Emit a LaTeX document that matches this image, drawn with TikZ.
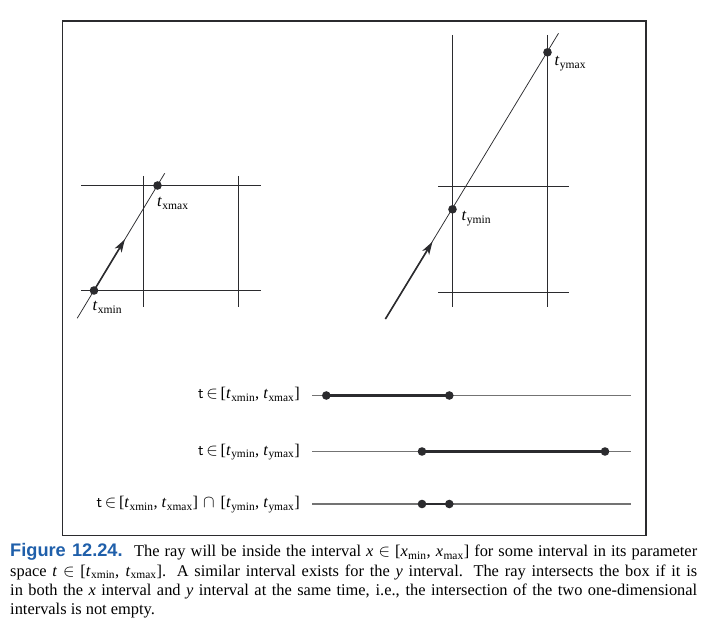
\documentclass[tikz,border=0pt]{standalone}
\usepackage{fontspec}
\setmainfont{Liberation Serif}
\newfontfamily\capsans{Liberation Sans}
\usetikzlibrary{arrows.meta}
\definecolor{ink}{HTML}{2B2B2E}
\definecolor{axisgray}{HTML}{737373}
\definecolor{capblue}{HTML}{1F5FAA}
\newcommand\tsb[1]{\textit{t}\kern0.3pt\textsubscript{#1}}
\newcommand\vsb[2]{\textit{#1}\kern0.3pt\textsubscript{#2}}
\begin{document}
\begin{tikzpicture}[x=1pt,y=-1pt,
  frame/.style={draw=ink,line width=1.3pt},
  gridline/.style={draw=ink,line width=1.15pt},
  ray/.style={draw=ink,line width=0.75pt},
  raythick/.style={draw=ink,line width=1.6pt,-{Stealth[length=13pt,width=8pt,inset=3.5pt]}},
  dot/.style={circle,fill=ink,inner sep=0pt,minimum size=8.6pt},
  lbl/.style={inner sep=0pt,anchor=base west,font=\fontsize{16.5}{18}\selectfont},
  axis/.style={draw=axisgray,line width=1.2pt},
  seg/.style={draw=ink,line width=2.6pt},
  ilbl/.style={inner sep=0pt,anchor=base east,font=\fontsize{16.3}{18}\selectfont},
  caption/.style={inner sep=0pt,anchor=north west,text width=687pt,align=justify,font=\fontsize{16.4}{19.2}\selectfont},
]
\useasboundingbox (0,0) rectangle (707,628);
\draw[frame] (62.5,21) rectangle (646,535.5);

% ---------- left diagram ----------
\coordinate (LH1a) at (81,185.5);   \coordinate (LH1b) at (261,185.5);
\coordinate (LH2a) at (81,290.5); \coordinate (LH2b) at (261,290.5);
\coordinate (LV1a) at (143.5,176); \coordinate (LV1b) at (143.5,307);
\coordinate (LV2a) at (238.5,176);   \coordinate (LV2b) at (238.5,307);
\draw[gridline] (LH1a) -- (LH1b);
\draw[gridline] (LH2a) -- (LH2b);
\draw[gridline] (LV1a) -- (LV1b);
\draw[gridline] (LV2a) -- (LV2b);
\coordinate (LR0) at (77.2,318.3);
\coordinate (LR1) at (164.7,173.3);
\coordinate (LA) at (124.9,239.3);
\node[dot] (txmin) at (94,290.5) {};
\node[dot] (txmax) at (157.5,185.5) {};
\draw[ray] (LR0) -- (LR1);
\draw[raythick] (txmin.center) -- (LA);
\node[lbl] (ltxmax) at (157,207) {\tsb{xmax}};
\node[lbl] (ltxmin) at (92.5,311) {\tsb{xmin}};

% ---------- right diagram ----------
\coordinate (RH1a) at (438.3,186.5);   \coordinate (RH1b) at (569.3,186.5);
\coordinate (RH2a) at (438.3,292.5); \coordinate (RH2b) at (569.3,292.5);
\coordinate (RV1a) at (452.5,35);   \coordinate (RV1b) at (452.5,307.3);
\coordinate (RV2a) at (547.5,35); \coordinate (RV2b) at (547.5,307.3);
\draw[gridline] (RH1a) -- (RH1b);
\draw[gridline] (RH2a) -- (RH2b);
\draw[gridline] (RV1a) -- (RV1b);
\draw[gridline] (RV2a) -- (RV2b);
\coordinate (RR0) at (385.4,319);
\coordinate (RR1) at (558.5,33.3);
\coordinate (RA) at (432.5,241.7);
\node[dot] (tymin) at (452.5,209.3) {};
\node[dot] (tymax) at (547.5,52.3) {};
\draw[ray] (RR0) -- (RR1);
\draw[raythick] (RR0) -- (RA);
\node[lbl] (ltymin) at (461.5,221) {\tsb{ymin}};
\node[lbl] (ltymax) at (554.5,66) {\tsb{ymax}};

% ---------- interval lines ----------
\coordinate (A1s) at (312.3,395.5); \coordinate (A1e) at (631,395.5);
\coordinate (A2s) at (312.3,451.5); \coordinate (A2e) at (631,451.5);
\coordinate (A3s) at (312.3,504);   \coordinate (A3e) at (631,504);
\draw[axis] (A1s) -- (A1e);
\draw[axis] (A2s) -- (A2e);
\draw[axis] (A3s) -- (A3e);
\node[dot] (p1a) at (326.3,395.5) {};
\node[dot] (p1b) at (449.3,395.5) {};
\node[dot] (p2a) at (422,451.5) {};
\node[dot] (p2b) at (605,451.5) {};
\node[dot] (p3a) at (422,504) {};
\node[dot] (p3b) at (449.3,504) {};
\draw[seg] (p1a.center) -- (p1b.center);
\draw[seg] (p2a.center) -- (p2b.center);
\draw[seg] (p3a.center) -- (p3b.center);
\node[ilbl] (il1) at (300,399) {\textsf{t}\,$\in$\,[\tsb{xmin}, \tsb{xmax}]};
\node[ilbl] (il2) at (300,455) {\textsf{t}\,$\in$\,[\tsb{ymin}, \tsb{ymax}]};
\node[ilbl] (il3) at (300,507.8) {\textsf{t}\,$\in$\,[\tsb{xmin}, \tsb{xmax}]\hspace{5pt}$\cap$\hspace{6pt}[\tsb{ymin}, \tsb{ymax}]};

% ---------- caption ----------
\node[caption] (cap) at (10,543.5) {{\capsans\bfseries\fontsize{18.2}{19.2}\selectfont\color{capblue}Figure 12.24.}\hspace{0.7em}The ray will be inside the interval \textit{x}~$\in$~[\vsb{x}{min}, \vsb{x}{max}] for some interval in its parameter\linebreak
space \textit{t}~$\in$~[\tsb{xmin}, \tsb{xmax}]. A similar interval exists for the \textit{y} interval. The ray intersects the box if it is\linebreak
in both the \textit{x} interval and \textit{y} interval at the same time, i.e., the intersection of the two one-dimensional\linebreak
intervals is not empty.};
\end{tikzpicture}
\end{document}
